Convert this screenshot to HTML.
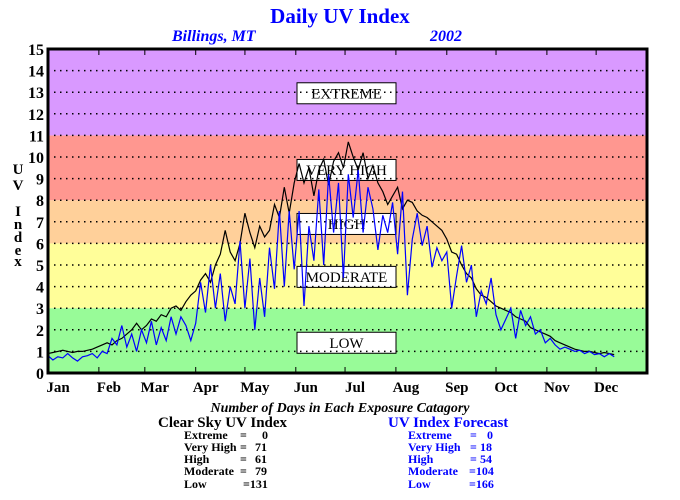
<!DOCTYPE html>
<html><head><meta charset="utf-8"><style>
body{margin:0;background:#fff;width:680px;height:500px;overflow:hidden}
svg{display:block;font-family:"Liberation Serif",serif}
</style></head><body>
<svg id="chart" width="680" height="500">
<text x="340" y="23" text-anchor="middle" font-size="21" font-weight="bold" fill="#0000ff">Daily UV Index</text>
<text x="172" y="41" font-size="16" font-weight="bold" font-style="italic" fill="#0000ff">Billings, MT</text>
<text x="430" y="41" font-size="16" font-weight="bold" font-style="italic" fill="#0000ff">2002</text>
<g id="bands"></g><g id="boxes"></g><g id="grid"></g><g id="series"></g><g id="axes"></g>
<g font-weight="bold" font-size="15">
<text x="18" y="174" text-anchor="middle">U</text><text x="18" y="190" text-anchor="middle">V</text>
<text x="18" y="216" text-anchor="middle">I</text><text x="18" y="229" text-anchor="middle">n</text>
<text x="18" y="242" text-anchor="middle">d</text><text x="18" y="255" text-anchor="middle">e</text>
<text x="18" y="266" text-anchor="middle">x</text></g>
<text x="340" y="412" text-anchor="middle" font-size="14" font-style="italic" font-weight="bold">Number of Days in Each Exposure Catagory</text>
<g font-weight="bold">
<text x="158" y="427" font-size="15">Clear Sky UV Index</text>
<g font-size="12"><text x="184" y="439">Extreme</text><text x="240" y="439">=</text><text x="262" y="439">0</text>
<text x="184" y="451">Very High</text><text x="240" y="451">=</text><text x="255" y="451">71</text>
<text x="184" y="463">High</text><text x="240" y="463">=</text><text x="255" y="463">61</text>
<text x="184" y="475">Moderate</text><text x="240" y="475">=</text><text x="255" y="475">79</text>
<text x="184" y="488">Low</text><text x="243" y="488">=131</text></g></g>
<g font-weight="bold" fill="#0000ff">
<text x="388" y="427" font-size="15">UV Index Forecast</text>
<g font-size="12"><text x="408" y="439">Extreme</text><text x="470" y="439">=</text><text x="487" y="439">0</text>
<text x="408" y="451">Very High</text><text x="470" y="451">=</text><text x="480" y="451">18</text>
<text x="408" y="463">High</text><text x="470" y="463">=</text><text x="480" y="463">54</text>
<text x="408" y="475">Moderate</text><text x="469" y="475">=104</text>
<text x="408" y="488">Low</text><text x="469" y="488">=166</text></g></g>
</svg>
<script>
const yTicks=[0,1,2,3,4,5,6,7,8,9,10,11,12,13,14,15];
const months=["Jan","Feb","Mar","Apr","May","Jun","Jul","Aug","Sep","Oct","Nov","Dec"];
const monthStarts=[0,31,59,90,120,151,181,212,243,273,304,334];
const bandNames=["low","moderate","high","very-high","extreme"];
const bandLo=[0,3,6,8,11];
const bandHi=[3,6,8,11,15];
const bandColors=["#98fb98","#fffe99","#ffd09a","#ff9790","#d999ff"];
const labelNames=["EXTREME","VERY HIGH","HIGH","MODERATE","LOW"];
const labelValues=[12.95,9.4,6.9,4.45,1.4];
const sampleStep=3;
const clearSky=[0.9,0.95,1.0,1.05,1.0,0.95,1.0,1.0,1.05,1.1,1.2,
1.3,1.4,1.3,1.5,1.6,1.8,2.0,2.3,2.0,
2.2,2.5,2.4,2.7,2.6,3.0,3.1,2.9,3.3,3.6,
3.8,4.3,4.6,4.2,5.0,5.5,6.6,5.6,5.2,6.0,
7.4,6.5,5.8,6.8,6.3,6.6,7.8,7.2,8.6,7.4,8.8,
9.7,8.8,9.5,8.2,9.4,9.9,8.7,9.8,10.2,9.5,
10.7,10.0,9.4,10.2,9.0,9.6,8.8,8.4,7.8,8.2,
8.6,7.6,8.0,7.9,7.5,7.3,7.2,7.0,6.8,6.6,
6.2,5.6,5.5,5.0,4.6,4.4,3.9,3.6,3.5,3.3,
3.1,3.0,2.9,2.8,2.6,2.5,2.4,2.1,2.0,1.9,
1.8,1.7,1.5,1.4,1.3,1.2,1.1,1.05,1.0,1.0,
0.95,0.9,0.95,0.9,0.85];
const forecast=[0.8,0.6,0.75,0.7,0.9,0.7,0.55,0.75,0.8,0.9,0.7,
1.0,0.9,1.6,1.3,2.2,1.2,1.8,1.0,2.0,
1.4,2.4,1.3,2.1,1.5,2.6,1.8,2.6,2.2,1.5,
2.3,4.2,2.8,5.0,3.0,4.6,2.4,4.0,3.2,6.1,
3.0,5.3,2.0,4.4,2.6,5.8,3.9,7.5,4.0,7.5,4.8,
7.5,3.1,6.8,5.2,8.5,5.0,9.2,6.5,8.8,4.4,
9.2,7.2,9.4,6.5,8.6,7.6,5.7,7.3,6.5,7.9,
5.5,8.4,3.6,6.2,7.4,5.9,6.8,4.9,5.8,5.2,
5.6,3.0,4.5,5.9,4.2,5.0,2.6,3.8,3.2,4.4,
2.7,2.0,2.5,3.0,1.6,2.9,2.2,2.6,1.8,2.0,
1.4,1.6,1.3,1.1,1.2,1.1,1.0,1.05,0.9,1.0,
0.85,0.9,0.75,0.9,0.75];

const L=48,R=647,T=49,B=373;
const x=d=>L+d*(R-L)/365;
const y=v=>B-v*(B-T)/15;
const NS="http://www.w3.org/2000/svg";
function mk(tag,attrs,parent){const e=document.createElementNS(NS,tag);for(const k in attrs)e.setAttribute(k,attrs[k]);parent.appendChild(e);return e;}
const gB=document.getElementById('bands'),gBox=document.getElementById('boxes'),gG=document.getElementById('grid'),gS=document.getElementById('series'),gA=document.getElementById('axes');
bandLo.forEach((lo,i)=>{
 const r=mk('rect',{x:L,y:y(bandHi[i]),width:R-L,height:y(lo)-y(bandHi[i]),fill:bandColors[i]},gB);
 
 
});
labelNames.forEach((t,i)=>{
 const g=mk('g',{},gBox);
 
 
 const cy=y(labelValues[i]);
 mk('rect',{x:297,y:cy-10.5,width:99,height:21,fill:'#fff',stroke:'#000','stroke-width':1},g);
 const tx=mk('text',{x:346.5,y:cy+5,'text-anchor':'middle','font-size':15},g);tx.textContent=t;
});
yTicks.forEach(v=>{
 if(v>0&&v<15){const l=mk('line',{x1:L,x2:R,y1:y(v),y2:y(v),stroke:'#000','stroke-width':1.5,'stroke-dasharray':'1.5 4.5'},gG);
 
 }
 const t=mk('text',{x:44,y:y(v)+6,'text-anchor':'end','font-size':16,'font-weight':'bold'},gA);
 
 
 t.textContent=v;
});
function line(arr,color,name){
 const pts=arr.map((v,i)=>x(i*sampleStep).toFixed(1)+','+y(v).toFixed(1)).join(' ');
 const p=mk('polyline',{points:pts,fill:'none',stroke:color,'stroke-width':1.2},gS);
 
 
}
line(clearSky,'#000','clear-sky-line');
line(forecast,'#0000ff','forecast-line');
const fr=mk('rect',{x:L,y:T,width:R-L,height:B-T,fill:'none',stroke:'#000','stroke-width':3},gA);


monthStarts.forEach((d,i)=>{
 if(i>0){mk('line',{x1:x(d),x2:x(d),y1:B,y2:B-6,stroke:'#000','stroke-width':1},gA);
 mk('line',{x1:x(d),x2:x(d),y1:T,y2:T+6,stroke:'#000','stroke-width':1},gA);}
 const t=mk('text',{x:x(d)+10,y:392,'text-anchor':'middle','font-size':15,'font-weight':'bold'},gA);
 
 
 t.textContent=months[i];
});
</script>
</body></html>
